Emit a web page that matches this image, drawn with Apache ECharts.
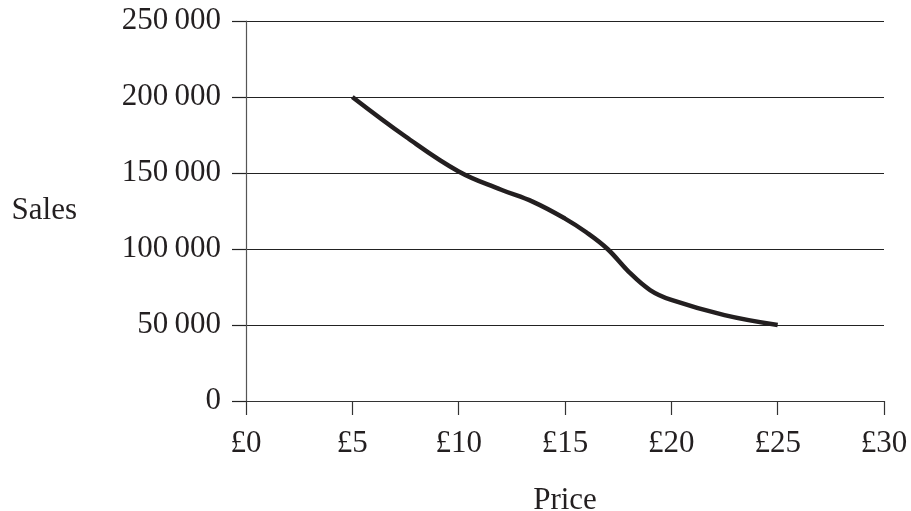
<!DOCTYPE html>
<html>
<head>
<meta charset="utf-8">
<script src="https://cdn.jsdelivr.net/npm/echarts@6/dist/echarts.min.js"></script>
<style>
  html, body { margin: 0; padding: 0; background: #fff; }
  #chart { width: 911px; height: 511px; }
</style>
</head>
<body>
<div id="chart"></div>
<script>
// price (£) and sales
const prices = [5, 7.5, 10, 12, 13.5, 15, 16, 17, 18, 19, 20, 22.5, 25]
const sales = [200000, 174000, 151000, 139000, 131000, 120000, 111000, 100000, 85000, 73000, 66500, 56500, 50000]

const xTicks = [0, 5, 10, 15, 20, 25, 30]
const yTicks = [0, 50000, 100000, 150000, 200000, 250000]

const font = '"Liberation Serif", "Times New Roman", serif'
const ink = '#231f20'

const fmtSales = v => {
  if (v < 1000) return String(v)
  const s = String(v)
  return s.slice(0, -3) + '\u2009' + s.slice(-3)
}

const chart = echarts.init(document.getElementById('chart'))

chart.setOption({
  animation: false,
  grid: { left: 246, right: 27, top: 21, bottom: 110, containLabel: false, outerBoundsMode: 'none' },
  xAxis: {
    type: 'value',
    min: xTicks[0],
    max: xTicks[xTicks.length - 1],
    interval: 5,
    name: 'Price',
    nameLocation: 'middle',
    nameGap: 84,
    nameTextStyle: { fontFamily: font, fontSize: 31, color: ink },
    axisLine: { show: true, lineStyle: { color: '#333', width: 1.2 } },
    axisTick: { show: true, length: 14, lineStyle: { color: '#333', width: 1.2 } },
    axisLabel: {
      margin: 27,
      fontFamily: font, fontSize: 31, color: ink,
      formatter: v => '£' + v
    },
    splitLine: { show: false }
  },
  yAxis: {
    type: 'value',
    min: yTicks[0],
    max: yTicks[yTicks.length - 1],
    interval: 50000,
    name: 'Sales',
    nameLocation: 'middle',
    nameRotate: 0,
    nameGap: 169,
    nameTextStyle: { fontFamily: font, fontSize: 31, color: ink, padding: [12, 0, 0, 0] },
    axisLine: { show: true, lineStyle: { color: '#555', width: 1.2 } },
    axisTick: { show: true, length: 14, lineStyle: { color: '#222', width: 1.2 } },
    axisLabel: {
      margin: 25,
      fontFamily: font, fontSize: 31, color: ink,
      formatter: fmtSales
    },
    splitLine: { show: true, lineStyle: { color: '#222', width: 1.2 } }
  },
  series: [{
    type: 'line',
    data: prices.map((p, i) => [p, sales[i]]),
    smooth: 0.4,
    showSymbol: false,
    lineStyle: { color: ink, width: 4.5, cap: 'butt' }
  }]
})
</script>
</body>
</html>
